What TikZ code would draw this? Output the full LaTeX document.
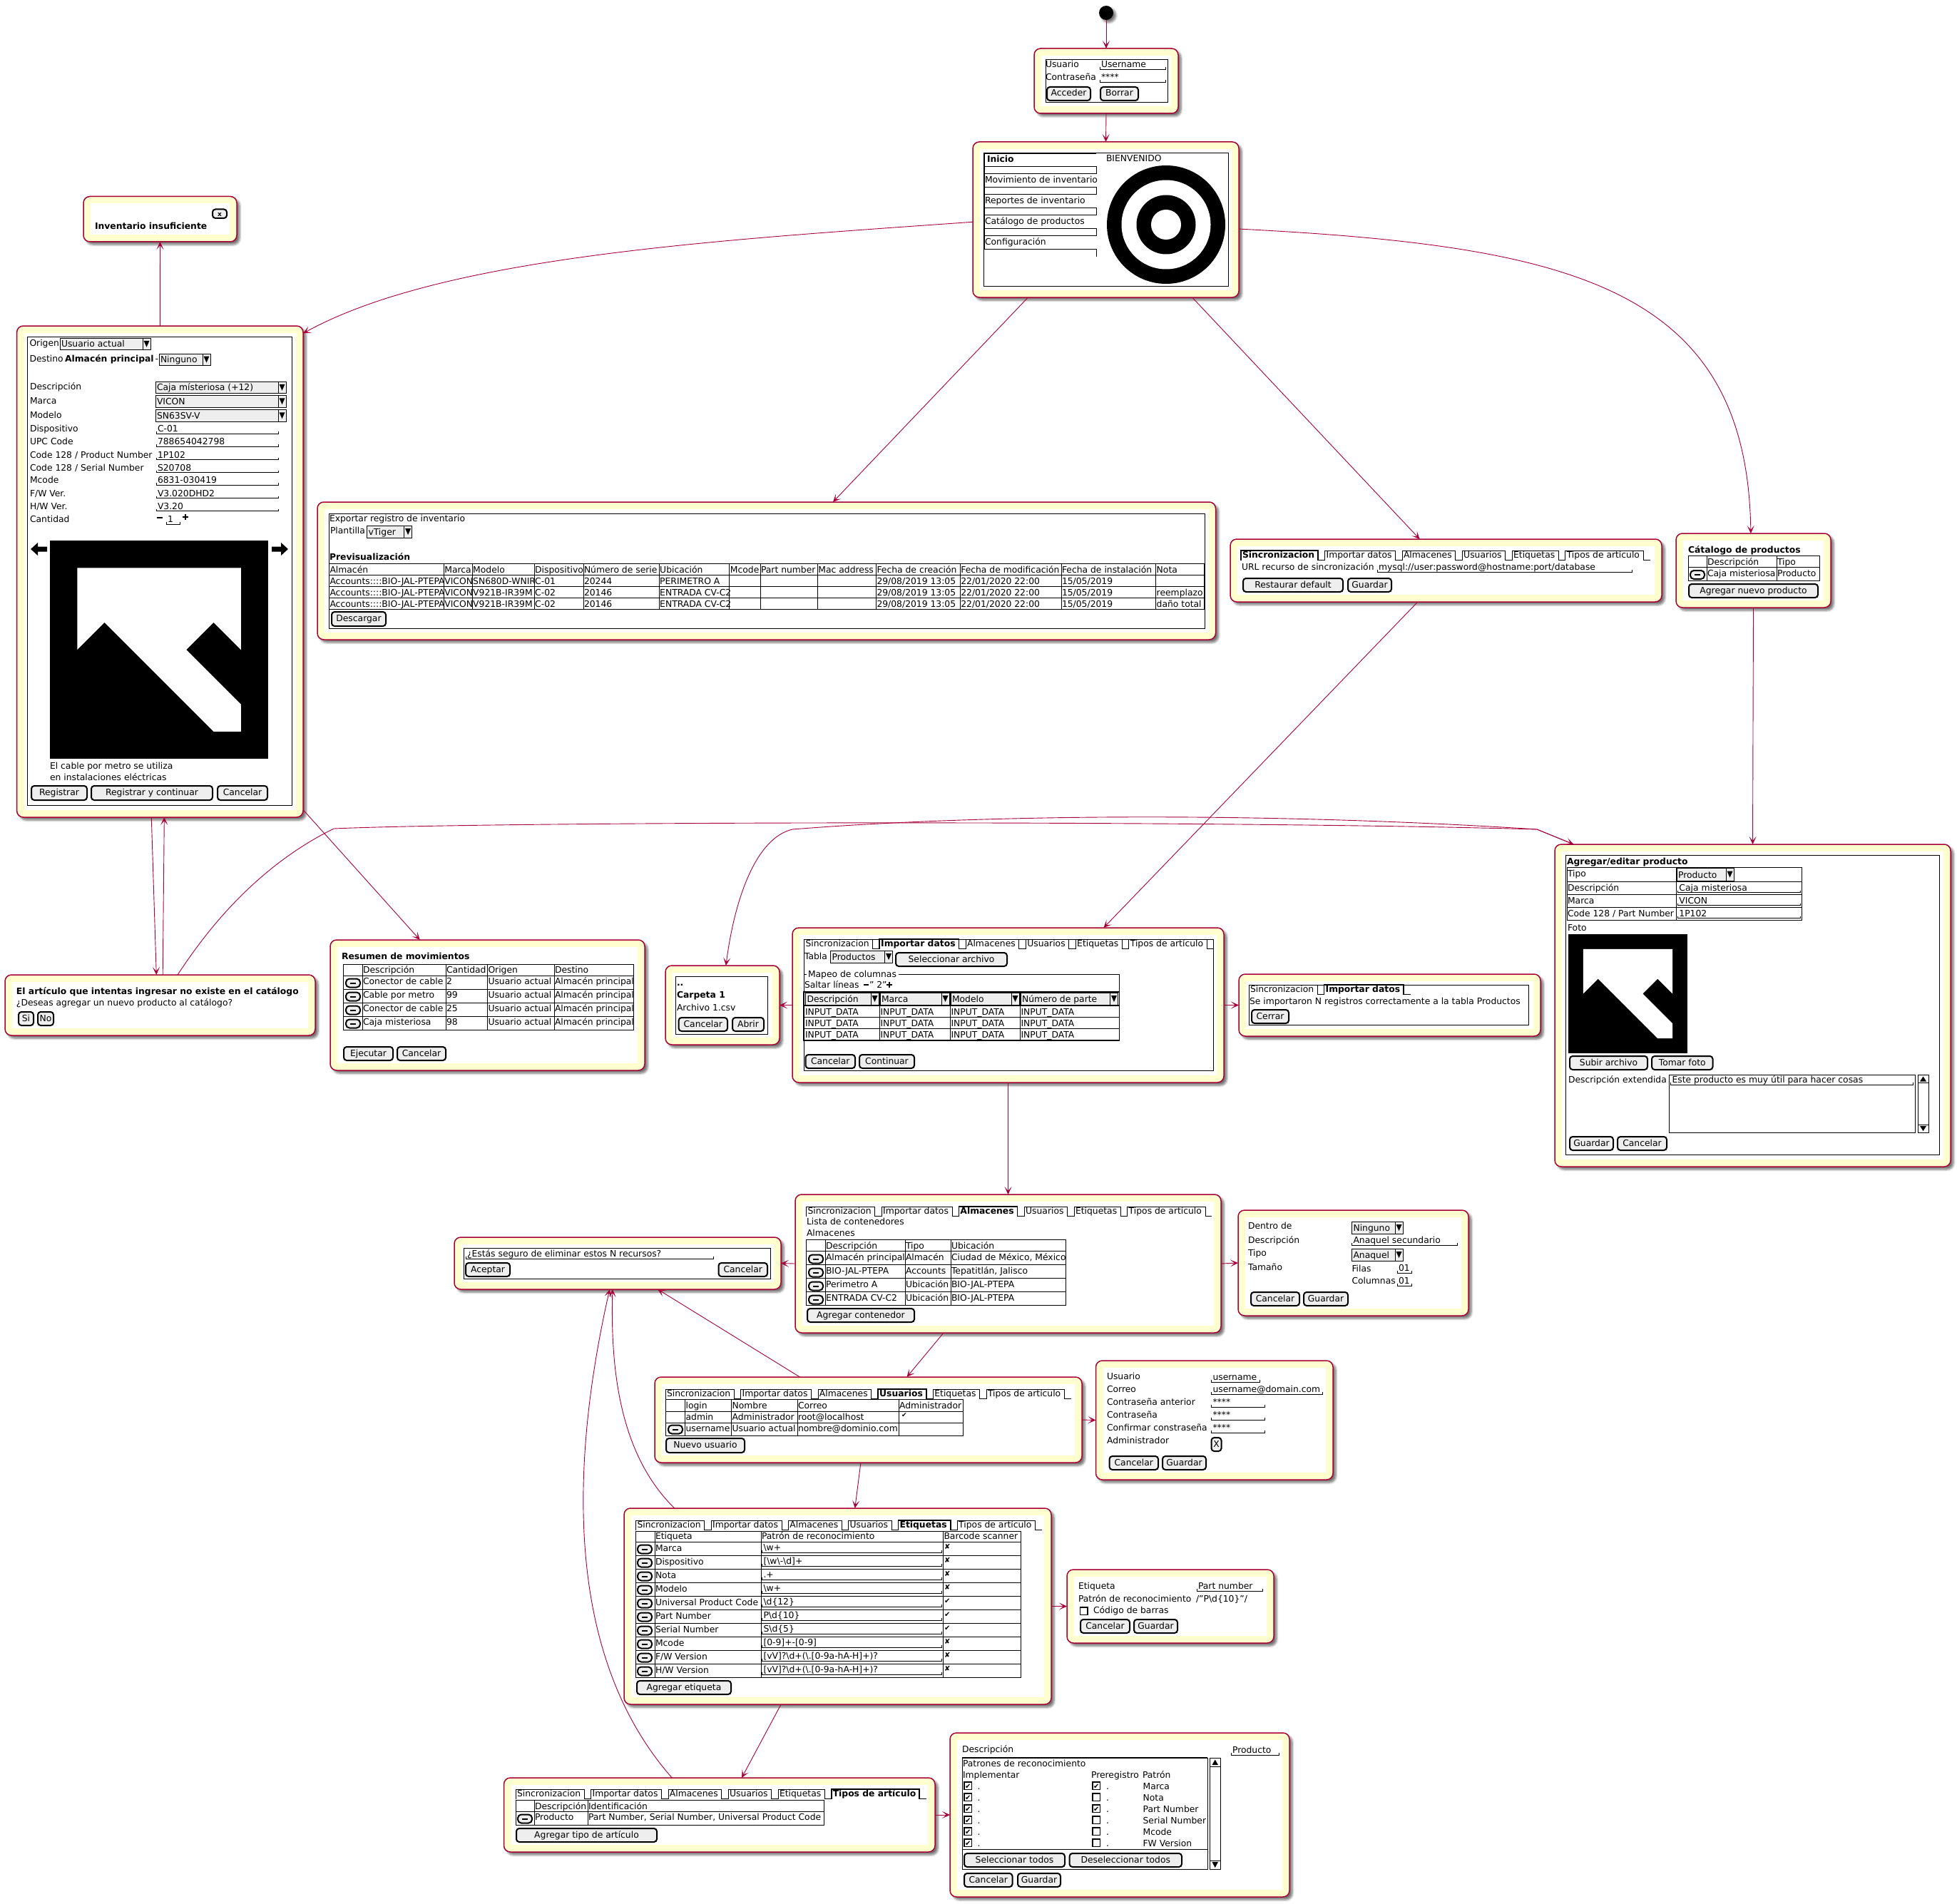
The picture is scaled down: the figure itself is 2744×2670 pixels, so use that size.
\documentclass[tikz,border=0pt]{standalone}
\usepackage{fontspec}
\setmainfont{DejaVu Sans}
\usetikzlibrary{arrows.meta,shadows,shadows.blur}
\definecolor{statered}{HTML}{A80036}
\definecolor{statefill}{HTML}{FEFECE}
\definecolor{btngrey}{HTML}{EEEEEE}
\tikzset{
  statenode/.style={draw=statered,line width=1.5pt,fill=statefill,rounded corners=9pt,inner sep=0,outer sep=0,
    blur shadow={shadow xshift=4pt,shadow yshift=-4pt,shadow blur radius=3pt,shadow opacity=55,shadow blur steps=6}},
  flow/.style={draw=statered,line width=.9pt,-{Stealth[length=11pt,width=10pt,inset=6pt]}},
  txt/.style={anchor=base west,inner sep=0,outer sep=0},
  btnnode/.style={draw=black,line width=2pt,fill=btngrey,rounded corners=4pt,inner sep=0,outer sep=0,text height=9.5pt,text depth=2.5pt},
  tabcell/.style={anchor=north west,inner xsep=2pt,inner ysep=.5pt,outer sep=0,text height=9.5pt,text depth=3pt},
  salt/.style={draw=black,line width=.9pt},
  thickframe/.style={draw=black,line width=1.8pt}
}
\newcounter{lblno}
\newcommand\lbl[3]{\stepcounter{lblno}\node[txt] (lbl\thelblno) at (#1,#2) {#3};}
\newcommand\statebox[5]{%
  \node[statenode,minimum width={(#4-#2)*1pt},minimum height={(#5-#3)*1pt}] (#1) at ({(#2+#4)/2},{(#3+#5)/2}) {};
  \fill[white] ({#2+10},{#3+10}) rectangle ({#4-10},{#5-10});}
\newcommand\btn[5]{\stepcounter{lblno}%
  \node[btnnode,minimum width={(#3-#1)*1pt},minimum height={(#4-#2)*1pt}] (btn\thelblno) at ({(#1+#3)/2},{(#2+#4)/2}) {#5};}
\newcommand\delbtn[2]{\stepcounter{lblno}%
  \node[btnnode,rounded corners=5pt,text height=0pt,text depth=0pt,minimum width=20pt,minimum height=12pt] (del\thelblno) at ({#1+11},{#2+6.5}) {};
  \fill ({#1+7},{#2+5.5}) rectangle ({#1+15},{#2+7.5});}
\newcommand\inp[4]{\draw[salt] (#1,{#3-3}) -- (#1,#3) -- (#2,#3) -- (#2,{#3-3});
  \lbl{#1+2}{#3-2.5}{#4}}
\newcommand\combo[5]{\draw[salt,fill=btngrey] (#1,#2) rectangle (#3,#4);
  \draw[salt] ({#3-11},#2) -- ({#3-11},#4);
  \fill ({#3-9.5},{(#2+#4)/2-4.5}) -- ({#3-1.5},{(#2+#4)/2-4.5}) -- ({#3-5.5},{(#2+#4)/2+4.5}) -- cycle;
  \lbl{#1+2}{#4-4}{#5}}
\newcommand\grid[6]{\draw[salt] (#1,#3) rectangle (#2,#4);
  \foreach \gx in {#5} {\draw[salt] (\gx,#3) -- (\gx,#4);}
  \foreach \gy in {#6} {\draw[salt] (#1,\gy) -- (#2,\gy);}}
\newcommand\rowtxt[2]{\foreach \cx/\ctxt in {#2} {\lbl{\cx}{#1}{\ctxt}}}
\newcommand\tabrow[5]{%
  \foreach \tname [count=\ti] in {#5} {%
    \pgfmathtruncatemacro\tprev{\ti-1}%
    \ifnum\ti=1
      \node[tabcell] (#1\ti) at (#2,#3) {\ifnum\ti=#4 \bfseries\fi\tname\kern3pt};
    \else
      \node[tabcell] (#1\ti) at ([xshift=9.5pt]#1\tprev.north east) {\ifnum\ti=#4 \bfseries\fi\tname\kern3pt};
    \fi
    \ifnum\ti=#4
      \draw[salt,line width=1.6pt] (#1\ti.south west) |- (#1\ti.north east) -- (#1\ti.south east);
    \else
      \draw[salt] (#1\ti.south west) |- (#1\ti.north east) -- (#1\ti.south east);
    \fi
    \draw[salt] (#1\ti.south east) -- ++(9.5,0);
  }}
\newcommand\brokenimg[3]{\begin{scope}[shift={(#1,#2)},x=#3pt,y=-#3pt]
    \fill (0,0) rectangle (1,1);
    \fill[white] (.125,.125) -- (.875,.125) -- (.875,.5) -- (.75,.375) -- (.625,.5) -- (.875,.75) -- (.875,.875) -- (.75,.875) -- (.25,.375) -- (.125,.5) -- cycle;
  \end{scope}}
\newcommand\chkbox[3]{\draw[salt,line width=1.2pt] (#1,#2) rectangle ({#1+10.5},{#2+10.5});
  \ifnum#3=1 \lbl{#1+1}{#2+9.5}{\fontsize{10}{10}\selectfont ✔}\fi}
\newcommand\bsl{\textbackslash}
\begin{document}
\begin{tikzpicture}[x=1pt,y=-1pt,every node/.append style={font=\fontsize{12.35}{15}\selectfont}]
  \useasboundingbox (0,0) rectangle (2744,2670);
  \node[circle,fill=black,minimum size=20pt,inner sep=0,outer sep=0,
    blur shadow={shadow xshift=3.5pt,shadow yshift=-3.5pt,shadow blur radius=3pt,shadow opacity=55,shadow blur steps=6}] (start) at (1551,18) {};

  % login
  \statebox{login}{1450}{68}{1652}{159}
  \draw[salt] (1466,83) rectangle (1637,143);
  \lbl{1466}{95}{Usuario}
  \lbl{1466}{113}{Contraseña}
  \inp{1542}{1634}{97}{Username}
  \inp{1542}{1634}{115}{****}
  \btn{1468}{122}{1529}{141}{Acceder}
  \btn{1543}{122}{1596}{141}{Borrar}

  % menu
  \statebox{menu}{1364}{199}{1737}{417}
  \draw[salt] (1379,214) rectangle (1722,401);
  \draw[salt,line width=1.6pt] (1380.5,233) -- (1380.5,215) -- (1537,215);
  \lbl{1384}{228}{\bfseries Inicio}
  \foreach \my in {233,262,291,320} {\draw[salt] (1380,\my) rectangle (1537,{\my+10});}
  \foreach \my in {243,272,301,330} {\draw[salt,line width=1.3pt] (1380.5,\my) -- (1380.5,{\my+19});}
  \draw[salt] (1380,349) -- (1537,349) -- (1537,360);
  \lbl{1381}{257}{Movimiento de inventario}
  \lbl{1381}{286}{Reportes de inventario}
  \lbl{1381}{315}{Catálogo de productos}
  \lbl{1381}{344}{Configuración}
  \lbl{1551}{227}{BIENVENIDO}
  \fill (1635,315) circle[radius=83pt];
  \fill[white] (1635,315) circle[radius=62.5pt];
  \fill (1635,315) circle[radius=41.5pt];
  \fill[white] (1635,315) circle[radius=21pt];

  % error
  \statebox{err}{117}{275.5}{332}{339}
  \btn{298}{293.5}{318}{306}{\fontsize{9}{9}\selectfont\bfseries x}
  \lbl{133}{322}{\bfseries Inventario insuficiente}

  % movimiento de inventario
  \statebox{form}{23.6}{457}{425}{1146}
  \draw[salt] (38,472) rectangle (409.5,1129);
  \lbl{41.5}{485}{Origen}
  \combo{84}{474.5}{211}{490}{Usuario actual}
  \lbl{41.5}{507}{Destino}
  \lbl{91}{507}{\bfseries Almacén principal}
  \lbl{217.5}{507}{-}
  \combo{223}{496}{295}{512}{Ninguno}
  \lbl{42}{546}{Descripción}
  \combo{218}{535}{401}{551.5}{Caja místeriosa (+12)}
  \lbl{42}{566}{Marca}
  \combo{218}{554.5}{401}{571}{VICON}
  \lbl{42}{586}{Modelo}
  \combo{218}{574.5}{401}{591}{SN63SV-V}
  \foreach \fy/\fa/\fb in {605.6/Dispositivo/C-01,623.5/UPC Code/788654042798,642/{Code 128 / Product Number}/1P102,660/{Code 128 / Serial Number}/S20708,677.5/Mcode/6831-030419,696/{F/W Ver.}/V3.020DHD2,714/{H/W Ver.}/V3.20} {
    \lbl{42}{\fy}{\fa}
    \inp{219}{390}{\fy+2.5}{\fb}
  }
  \lbl{42}{732}{Cantidad}
  \draw[line width=2pt] (220,725.5) -- (228,725.5);
  \inp{233}{252}{735}{1}
  \draw[line width=2pt] (255.5,725) -- (263.5,725) (259.5,721) -- (259.5,729);
  \fill (43,770) -- (53,761) -- (53,766.5) -- (66,766.5) -- (66,773.5) -- (53,773.5) -- (53,779) -- cycle;
  \fill (404,770) -- (394,761) -- (394,766.5) -- (381,766.5) -- (381,773.5) -- (394,773.5) -- (394,779) -- cycle;
  \brokenimg{70}{758}{306}
  \lbl{70}{1078}{El cable por metro se utiliza}
  \lbl{70}{1094}{en instalaciones eléctricas}
  \btn{44}{1102}{122}{1122}{Registrar}
  \btn{128}{1102}{298}{1122}{Registrar y continuar}
  \btn{305}{1102}{375}{1122}{Cancelar}

  % exportar
  \statebox{export}{445}{704}{1704.5}{897}
  \draw[salt] (461.5,720) rectangle (1689,881);
  \lbl{462}{731}{Exportar registro de inventario}
  \lbl{463}{748}{Plantilla}
  \combo{514.5}{737}{577.6}{754}{vTiger}
  \lbl{462}{785}{\bfseries Previsualización}
  \grid{461.5}{1688}{790}{854}{622.4,662.2,749.2,818,924.2,1022.9,1066,1146.4,1228.5,1346.3,1488,1620.7}{806,822,838}
  \rowtxt{803}{462.5/Almacén,623.4/Marca,663.2/Modelo,750.2/Dispositivo,819/Número de serie,925.2/Ubicación,1023.9/Mcode,1067/Part number,1147.4/Mac address,1229.5/Fecha de creación,1347.3/Fecha de modificación,1489/Fecha de instalación,1621.7/Nota}
  \rowtxt{819}{462.5/Accounts::::BIO-JAL-PTEPA,623.4/VICON,663.2/SN680D-WNIR,750.2/C-01,819/20244,925.2/PERIMETRO A,1229.5/{29/08/2019 13:05},1347.3/{22/01/2020 22:00},1489/{15/05/2019}}
  \rowtxt{835}{462.5/Accounts::::BIO-JAL-PTEPA,623.4/VICON,663.2/V921B-IR39M,750.2/C-02,819/20146,925.2/ENTRADA CV-C2,1229.5/{29/08/2019 13:05},1347.3/{22/01/2020 22:00},1489/{15/05/2019},1621.7/reemplazo}
  \rowtxt{851}{462.5/Accounts::::BIO-JAL-PTEPA,623.4/VICON,663.2/V921B-IR39M,750.2/C-02,819/20146,925.2/ENTRADA CV-C2,1229.5/{29/08/2019 13:05},1347.3/{22/01/2020 22:00},1489/{15/05/2019},1621.7/daño total}
  \btn{465}{858}{541}{878}{Descargar}

  % sincronizacion
  \statebox{config}{1725}{756}{2330}{844}
  \tabrow{cfgt}{1740}{772}{1}{Sincronizacion,Importar datos,Almacenes,Usuarios,Etiquetas,Tipos de artículo}
  \lbl{1741}{799}{URL recurso de sincronización}
  \inp{1931}{2288}{802}{mysql://user:password@hostname:port/database}
  \btn{1743}{811}{1883}{830}{Restaurar default}
  \btn{1890}{811}{1951}{830}{Guardar}

  % catalogo
  \statebox{catalog}{2350}{748}{2567}{852}
  \lbl{2367}{775}{\bfseries Cátalogo de productos}
  \grid{2367}{2551}{779}{814}{2393,2491}{795}
  \rowtxt{792}{2394/Descripción,2492/Tipo}
  \rowtxt{808}{2394/Caja misteriosa,2492/Producto}
  \delbtn{2369}{799.5}
  \btn{2368}{819}{2549}{838}{Agregar nuevo producto}

  % agregar producto
  \statebox{addprod}{2180}{1184}{2735}{1636}
  \draw[salt] (2195.6,1199) rectangle (2719,1619);
  \lbl{2197}{1212}{\bfseries Agregar/editar producto}
  \grid{2197.5}{2526.4}{1216}{1290}{2350.6}{1236,1254,1272}
  \lbl{2198}{1229}{Tipo}
  \combo{2351}{1217}{2431}{1235}{Producto}
  \lbl{2198}{1249}{Descripción}
  \inp{2352.4}{2524}{1251.5}{Caja misteriosa}
  \lbl{2198}{1267}{Marca}
  \inp{2352.4}{2524}{1269.5}{VICON}
  \lbl{2198}{1285}{Code 128 / Part Number}
  \inp{2352.4}{2524}{1287.5}{1P102}
  \lbl{2198}{1305}{Foto}
  \brokenimg{2199}{1310}{167}
  \btn{2201}{1481}{2310}{1500}{Subir archivo}
  \btn{2316}{1481}{2401.5}{1500}{Tomar foto}
  \lbl{2199}{1518}{Descripción extendida}
  \draw[salt] (2340,1507) rectangle (2685,1588);
  \inp{2342.5}{2682}{1521}{Este producto es muy útil para hacer cosas}
  \draw[salt] (2689,1507) rectangle (2704,1588);
  \draw[salt] (2689,1518.5) -- (2704,1518.5) (2689,1577) -- (2704,1577);
  \fill (2696.5,1509.5) -- (2692,1516.5) -- (2701,1516.5) -- cycle;
  \fill (2696.5,1586) -- (2692,1579) -- (2701,1579) -- cycle;
  \btn{2201}{1594}{2262}{1613}{Guardar}
  \btn{2268}{1594}{2337}{1613}{Cancelar}

  % dialogo
  \statebox{dialog}{7}{1367}{442}{1452}
  \lbl{23}{1394}{\bfseries El artículo que intentas ingresar no existe en el catálogo}
  \lbl{23}{1410}{¿Deseas agregar un nuevo producto al catálogo?}
  \btn{26}{1419}{47}{1438}{Si}
  \btn{53}{1419}{75}{1438}{No}

  % resumen
  \statebox{summary}{463}{1318}{904}{1501}
  \lbl{479}{1345}{\bfseries Resumen de movimientos}
  \grid{481.4}{888}{1352}{1444}{508,625,683.5,777}{1368,1387,1406,1425}
  \rowtxt{1364}{509/Descripción,626/Cantidad,684.5/Origen,778/Destino}
  \foreach \sy/\sa/\sb in {1380/Conector de cable/2,1399/Cable por metro/99,1418/Conector de cable/25,1437/Caja misteriosa/98} {
    \rowtxt{\sy}{509/\sa,626/\sb,684.5/Usuario actual,778/Almacén principal}
    \delbtn{484}{\sy-8}
  }
  \btn{482}{1468}{551}{1487}{Ejecutar}
  \btn{557}{1468}{625}{1487}{Cancelar}

  % archivo
  \statebox{filebox}{933}{1354}{1093}{1465}
  \draw[salt] (947,1369) rectangle (1076.5,1450);
  \lbl{949}{1382}{\bfseries ..}
  \lbl{949}{1399}{\bfseries Carpeta 1}
  \lbl{949}{1417}{Archivo 1.csv}
  \btn{951.6}{1427}{1020}{1446}{Cancelar}
  \btn{1027}{1427}{1071}{1446}{Abrir}

  % importar
  \statebox{import}{1111}{1301}{1716}{1518}
  \draw[salt] (1127,1317) rectangle (1701,1501);
  \tabrow{impt}{1127.5}{1317}{2}{Sincronizacion,Importar datos,Almacenes,Usuarios,Etiquetas,Tipos de artículo}
  \lbl{1128}{1345}{Tabla}
  \combo{1164.6}{1333}{1251.6}{1350}{Productos}
  \btn{1256}{1336}{1412}{1355}{Seleccionar archivo}
  \draw[salt] (1131,1366) -- (1127,1366) -- (1127,1459) -- (1569.5,1459) -- (1569.5,1366) -- (1260,1366);
  \lbl{1133}{1370}{Mapeo de columnas}
  \lbl{1128}{1385}{Saltar líneas}
  \draw[line width=2pt] (1211,1380.5) -- (1218,1380.5);
  \lbl{1219}{1385}{" 2"}
  \draw[line width=2pt] (1243,1380.5) -- (1251,1380.5) (1247,1376.5) -- (1247,1384.5);
  \combo{1129.5}{1392}{1232}{1409}{Descripción}
  \combo{1234}{1392}{1331}{1409}{Marca}
  \combo{1333}{1392}{1429}{1409}{Modelo}
  \combo{1431}{1392}{1567.5}{1409}{Número de parte}
  \draw[thickframe] (1127,1391) rectangle (1569.5,1459);
  \draw[thickframe] (1127,1410) -- (1569.5,1410);
  \draw[salt] (1127,1426) -- (1569.5,1426) (1127,1442) -- (1569.5,1442);
  \foreach \ix in {1233,1332,1430} {\draw[salt] (\ix,1391) -- (\ix,1459);}
  \foreach \iy in {1423,1439,1455} {\rowtxt{\iy}{1129/INPUT\_DATA,1234.5/INPUT\_DATA,1333.5/INPUT\_DATA,1431.5/INPUT\_DATA}}
  \btn{1129.5}{1479}{1199}{1498}{Cancelar}
  \btn{1205}{1479}{1282}{1498}{Continuar}

  % importado
  \statebox{imported}{1737}{1366}{2160}{1453}
  \draw[salt] (1751,1381) rectangle (2143.5,1437);
  \tabrow{dont}{1751}{1381}{2}{Sincronizacion,Importar datos}
  \lbl{1752}{1408}{Se importaron N registros correctamente a la tabla Productos}
  \btn{1755}{1416}{1807}{1435}{Cerrar}

  % almacenes
  \statebox{almacen}{1115}{1675}{1712}{1869}
  \tabrow{almt}{1130.5}{1692}{3}{Sincronizacion,Importar datos,Almacenes,Usuarios,Etiquetas,Tipos de artículo}
  \lbl{1131}{1717}{Lista de contenedores}
  \lbl{1131}{1733}{Almacenes}
  \grid{1130.5}{1494}{1738}{1830}{1157,1269,1333}{1754,1773,1792,1811}
  \rowtxt{1751}{1158/Descripción,1270/Tipo,1334/Ubicación}
  \foreach \ay/\aa/\ab/\ac in {1767/Almacén principal/Almacén/{Ciudad de México, México},1786/BIO-JAL-PTEPA/Accounts/{Tepatitlán, Jalisco},1805/Perimetro A/Ubicación/BIO-JAL-PTEPA,1824/ENTRADA CV-C2/Ubicación/BIO-JAL-PTEPA} {
    \rowtxt{\ay}{1158/\aa,1270/\ab,1334/{\ac}}
    \delbtn{1133}{\ay-8}
  }
  \btn{1132}{1835}{1282}{1854}{Agregar contenedor}

  % confirmar
  \statebox{confirm}{637}{1735}{1095}{1808}
  \draw[salt] (650,1750) rectangle (1080,1793);
  \inp{653}{1000}{1765}{¿Estás seguro de eliminar estos N recursos?}
  \btn{653}{1771}{715}{1790}{Aceptar}
  \btn{1007.5}{1771}{1076}{1790}{Cancelar}

  % contenedor
  \statebox{whouse}{1736}{1697}{2059}{1845}
  \lbl{1750}{1723}{Dentro de}
  \combo{1895.5}{1713}{1967}{1730}{Ninguno}
  \lbl{1750}{1743}{Descripción}
  \inp{1895.5}{2043.5}{1746}{Anaquel secundario}
  \lbl{1750}{1761}{Tipo}
  \combo{1895.5}{1751}{1967}{1768}{Anaquel}
  \lbl{1750}{1781}{Tamaño}
  \lbl{1895.5}{1783}{Filas}
  \inp{1959}{1979}{1785}{01}
  \lbl{1895.5}{1800}{Columnas}
  \inp{1959}{1979}{1803}{01}
  \btn{1754}{1812}{1822}{1831}{Cancelar}
  \btn{1828}{1812}{1890}{1831}{Guardar}

  % usuarios
  \statebox{users}{918}{1931}{1517}{2051}
  \tabrow{usrt}{933}{1948}{4}{Sincronizacion,Importar datos,Almacenes,Usuarios,Etiquetas,Tipos de artículo}
  \grid{933}{1350}{1962}{2013}{960.6,1025.6,1118,1260}{1979,1995}
  \rowtxt{1975}{961.6/login,1026.6/Nombre,1119/Correo,1261/Administrador}
  \rowtxt{1991}{961.6/admin,1026.6/Administrador,1119/root@localhost}
  \lbl{1264}{1987}{\fontsize{9}{9}\selectfont ✔}
  \rowtxt{2007}{961.6/username,1026.6/Usuario actual,1119/nombre@dominio.com}
  \delbtn{936}{1998}
  \btn{934}{2017}{1044}{2037}{Nuevo usuario}

  % usuario
  \statebox{userform}{1536.5}{1908}{1869}{2075}
  \lbl{1552}{1934}{Usuario}
  \inp{1698.5}{1766}{1938}{username}
  \lbl{1552}{1952}{Correo}
  \inp{1698.5}{1854}{1955}{username@domain.com}
  \lbl{1552}{1970}{Contraseña anterior}
  \inp{1698.5}{1773}{1973}{****}
  \lbl{1552}{1988}{Contraseña}
  \inp{1698.5}{1773}{1991}{****}
  \lbl{1552}{2006}{Confirmar constraseña}
  \inp{1698.5}{1773}{2009}{****}
  \lbl{1552}{2024}{Administrador}
  \btn{1698.5}{2016}{1712.5}{2035}{X}
  \btn{1555.6}{2042}{1624}{2061}{Cancelar}
  \btn{1630}{2042}{1691}{2061}{Guardar}

  % etiquetas
  \statebox{tags}{875}{2115}{1474}{2390}
  \tabrow{tagt}{891.5}{2132}{5}{Sincronizacion,Importar datos,Almacenes,Usuarios,Etiquetas,Tipos de artículo}
  \grid{891.5}{1431.5}{2147}{2352}{918,1067,1322.5}{2162,2181,2200,2219,2238,2257,2276,2295,2314,2333}
  \rowtxt{2158}{919/Etiqueta,1068/Patrón de reconocimiento,1323.5/Barcode scanner}
  \foreach \tg/\pt/\mk [count=\ri] in {Marca/\bsl w+/0,Dispositivo/[\bsl w\bsl -\bsl d]+/0,Nota/.+/0,Modelo/\bsl w+/0,Universal Product Code/\bsl d\{12\}/1,Part Number/P\bsl d\{10\}/1,Serial Number/S\bsl d\{5\}/1,Mcode/[0-9]+-[0-9]/0,{F/W Version}/[vV]?\bsl d+(\bsl .[0-9a-hA-H]+)?/0,{H/W Version}/[vV]?\bsl d+(\bsl .[0-9a-hA-H]+)?/0} {
    \pgfmathsetmacro\ry{2162+19*(\ri-1)}
    \delbtn{893}{\ry+4}
    \lbl{919}{\ry+13}{\tg}
    \inp{1068.5}{1320}{\ry+15}{\pt}
    \lbl{1324}{\ry+10}{\fontsize{10}{10}\selectfont\ifnum\mk=1 ✔\else ✘\fi}
  }
  \btn{893}{2357}{1025}{2376}{Agregar etiqueta}

  % etiqueta
  \statebox{tagform}{1496}{2201}{1786}{2304}
  \lbl{1512}{2228}{Etiqueta}
  \inp{1678}{1770}{2231}{Part number}
  \lbl{1512}{2246}{Patrón de reconocimiento}
  \lbl{1677}{2246}{/"P\bsl d\{10\}"/}
  \chkbox{1514.5}{2254}{0}
  \lbl{1533}{2262}{Código de barras}
  \btn{1515}{2271}{1584}{2290}{Cancelar}
  \btn{1590}{2271}{1651}{2290}{Guardar}

  % tipos
  \statebox{tipos}{706.5}{2493}{1311}{2597}
  \tabrow{tipt}{723}{2509}{6}{Sincronizacion,Importar datos,Almacenes,Usuarios,Etiquetas,Tipos de artículo}
  \grid{723}{1155.6}{2524}{2559}{749,824}{2540}
  \rowtxt{2537}{750/Descripción,825/Identificación}
  \rowtxt{2552}{750/Producto,825/{Part Number, Serial Number, Universal Product Code}}
  \delbtn{725}{2544}
  \btn{724}{2564}{921}{2583}{Agregar tipo de artículo}

  % tipo
  \statebox{tipoform}{1332}{2430}{1808}{2660}
  \lbl{1349}{2457}{Descripción}
  \inp{1726}{1793}{2461}{Producto}
  \draw[salt] (1349,2465) rectangle (1693,2621);
  \draw[salt,line width=1.6pt] (1349,2465) -- (1693,2465);
  \draw[salt] (1349,2593) -- (1693,2593);
  \draw[salt] (1696,2465) rectangle (1711.5,2621);
  \draw[salt] (1696,2477) -- (1711.5,2477) (1696,2609) -- (1711.5,2609);
  \fill (1703.7,2467.5) -- (1699.5,2475) -- (1708,2475) -- cycle;
  \fill (1703.7,2619) -- (1699.5,2611) -- (1708,2611) -- cycle;
  \lbl{1350}{2477}{Patrones de reconocimiento}
  \rowtxt{2493}{1350/Implementar,1530/Preregistro,1602/Patrón}
  \foreach \pa/\pb/\pc [count=\pi] in {1/1/Marca,1/0/Nota,1/1/Part Number,1/0/Serial Number,1/0/Mcode,1/0/FW Version} {
    \pgfmathsetmacro\py{2499+16*(\pi-1)}
    \chkbox{1352}{\py}{\pa}
    \lbl{1370.5}{\py+10}{.}
    \chkbox{1532}{\py}{\pb}
    \lbl{1551}{\py+10}{.}
    \lbl{1602.6}{\py+10}{\pc}
  }
  \btn{1352}{2599}{1493}{2618}{Seleccionar todos}
  \btn{1499.6}{2599}{1657}{2618}{Deseleccionar todos}
  \btn{1352}{2627}{1419.5}{2646}{Cancelar}
  \btn{1427}{2627}{1487}{2646}{Guardar}

  % transiciones
  \draw[flow] (start.south) -- (login.north);
  \draw[flow] (login.south) -- (menu.north);
  \draw[flow] (menu.181.5) .. controls (1000,337) and (620,360) .. (form.59.4);
  \draw[flow] (menu.225.9) -- (export.46);
  \draw[flow] (menu.318.3) -- (config.130.4);
  \draw[flow] (menu.356) .. controls (2200,345) and (2450,400) .. (catalog.94);
  \draw[flow] (form.north) -- (err.south);
  \draw[flow] (form.268.6) -- (dialog.97.4);
  \draw[flow] (dialog.85.3) -- (form.271.1);
  \draw[flow] (form.301.1) -- (summary.136.2);
  \coordinate (joinadd) at (2155,1163);
  \draw[flow] (dialog.60) .. controls (280,1320) and (350,1220) .. (468,1162) .. controls (700,1152) and (1700,1150) .. (joinadd) -- (addprod.138.2);
  \draw[flow] (addprod.138.2) -- (joinadd) .. controls (1800,1140) and (1400,1140) .. (1111,1163) .. controls (1060,1175) and (1030,1260) .. (filebox.85.4);
  \draw[flow] (catalog.south) -- (addprod.north);
  \draw[flow] (config.228.8) -- (import.39.8);
  \draw[flow] (import.east) -- (imported.west);
  \draw[flow] (import.west) -- (filebox.east);
  \draw[flow] (import.south) -- (almacen.north);
  \draw[flow] (almacen.east) -- (whouse.west);
  \draw[flow] (almacen.west) -- (confirm.east);
  \draw[flow] (almacen.227.9) -- (users.48.3);
  \draw[flow] (users.148.4) -- (confirm.327.8);
  \draw[flow] (users.east) -- (userform.west);
  \draw[flow] (users.260.1) -- (tags.80.3);
  \draw[flow] (tags.149.7) .. controls (880,2050) and (855,1950) .. (confirm.259.1);
  \draw[flow] (tags.east) -- (tagform.west);
  \draw[flow] (tags.240.3) -- (tipos.59.8);
  \draw[flow] (tipos.142.3) .. controls (790,2320) and (800,2050) .. (confirm.253.2);
  \draw[flow] (tipos.east) -- (tipoform.west);
\end{tikzpicture}
\end{document}
